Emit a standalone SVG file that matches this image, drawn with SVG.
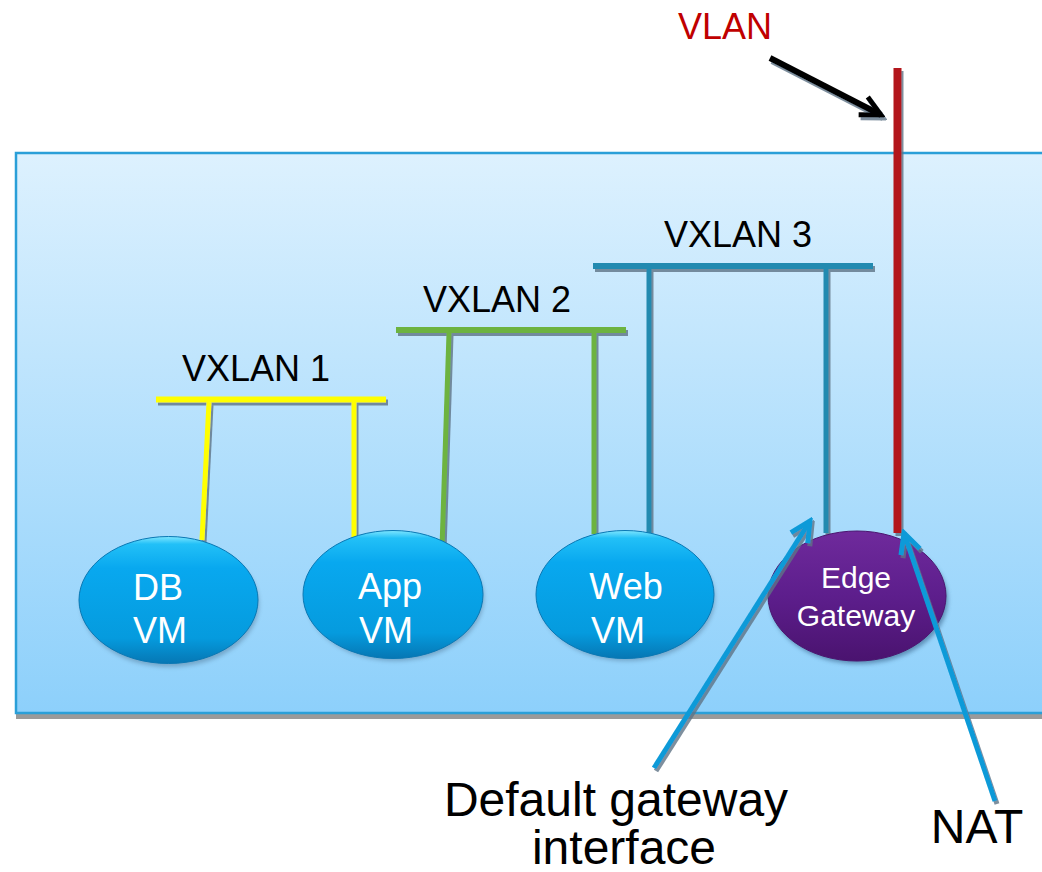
<svg xmlns="http://www.w3.org/2000/svg" width="1042" height="872" viewBox="0 0 1042 872">
  <style>
    .lbl { font-family: "Liberation Sans", Arial, sans-serif; text-anchor: middle; }
    .net { font-size: 36px; fill: #000; }
    .vm { font-size: 36px; fill: #fff; }
    .gw { font-size: 30px; fill: #fff; }
    .call { font-size: 48px; fill: #000; }
    .bar { fill: none; stroke-width: 6; stroke-linecap: butt; }
    .drop { fill: none; stroke-width: 5; stroke-linecap: butt; }
    .y { stroke: #ffff00; }
    .g { stroke: #6db33f; }
    .t { stroke: #228ab0; }
    .pointer { fill: none; stroke: #0b9ad8; stroke-width: 5; }
  </style>
  <defs>
    <linearGradient id="panelFill" x1="0" y1="0" x2="0" y2="1">
      <stop offset="0" stop-color="#ddf1fe"/>
      <stop offset="1" stop-color="#8dd0fb"/>
    </linearGradient>
    <linearGradient id="vmFill" x1="0" y1="0" x2="0" y2="1">
      <stop offset="0" stop-color="#7fe6ff"/>
      <stop offset="0.06" stop-color="#22c0f7"/>
      <stop offset="0.25" stop-color="#08a8ef"/>
      <stop offset="0.8" stop-color="#059bde"/>
      <stop offset="1" stop-color="#0677b4"/>
    </linearGradient>
    <linearGradient id="gwFill" x1="0" y1="0" x2="0" y2="1">
      <stop offset="0" stop-color="#6f2a9c"/>
      <stop offset="0.5" stop-color="#5d1e8c"/>
      <stop offset="1" stop-color="#4a136f"/>
    </linearGradient>
    <filter id="shade" x="-20%" y="-20%" width="140%" height="140%">
      <feDropShadow dx="2" dy="3" stdDeviation="0.6" flood-color="#5f7385" flood-opacity="0.8"/>
    </filter>
    <filter id="soft" x="-20%" y="-20%" width="140%" height="140%">
      <feGaussianBlur stdDeviation="2"/>
    </filter>
    <marker id="openHeadBlue" markerUnits="userSpaceOnUse" markerWidth="30" markerHeight="30" refX="0" refY="0" viewBox="-26 -14 30 28" orient="auto">
      <path d="M-20,-10 L0,0 L-20,10" fill="none" stroke="#0b9ad8" stroke-width="5" stroke-linejoin="miter"/>
    </marker>
    <marker id="openHeadBlack" markerUnits="userSpaceOnUse" markerWidth="30" markerHeight="30" refX="0" refY="0" viewBox="-26 -14 30 28" orient="auto">
      <path d="M-20,-10 L0,0 L-20,10" fill="none" stroke="#000" stroke-width="5" stroke-linejoin="miter"/>
    </marker>
  </defs>

  <rect width="1042" height="872" fill="#ffffff"/>

  <!-- tenant network container -->
  <g id="container">
    <rect x="16" y="713" width="1040" height="6" fill="#9a9a9a"/>
    <rect x="16" y="153" width="1040" height="560" fill="url(#panelFill)" stroke="#2a9fd8" stroke-width="2.5"/>
  </g>

  <!-- segment bars and uplinks -->
  <g id="connectors" filter="url(#shade)">
    <line class="bar y" x1="156" y1="399.5" x2="386" y2="399.5"/>
    <line class="drop y" x1="209" y1="402" x2="202" y2="540"/>
    <line class="drop y" x1="354" y1="402" x2="354" y2="537"/>

    <line class="bar g" x1="396" y1="330" x2="626" y2="330"/>
    <line class="drop g" x1="449" y1="333" x2="442" y2="548"/>
    <line class="drop g" x1="594" y1="333" x2="594" y2="534"/>

    <line class="bar t" x1="593" y1="266" x2="873" y2="266"/>
    <line class="drop t" x1="649" y1="269" x2="649" y2="534"/>
    <line class="drop t" x1="826" y1="269" x2="826" y2="533"/>

    <line id="vlan-uplink" x1="897.5" y1="68" x2="897.5" y2="533" stroke="#b3191b" stroke-width="8"/>
  </g>

  <!-- segment labels -->
  <g id="vxlan1"><text class="lbl net" x="256" y="381">VXLAN 1</text></g>
  <g id="vxlan2"><text class="lbl net" x="497" y="312">VXLAN 2</text></g>
  <g id="vxlan3"><text class="lbl net" x="738" y="247">VXLAN 3</text></g>

  <!-- virtual machines -->
  <g id="db-vm">
    <ellipse cx="170" cy="604" rx="89" ry="63" fill="#4b6f8c" opacity="0.45" filter="url(#soft)"/>
    <ellipse cx="168.5" cy="600" rx="89.5" ry="63.5" fill="url(#vmFill)" stroke="#0a78b4" stroke-width="1"/>
    <text class="lbl vm" x="158" y="600">DB</text>
    <text class="lbl vm" x="160" y="643">VM</text>
  </g>
  <g id="app-vm">
    <ellipse cx="395" cy="598" rx="89" ry="63" fill="#4b6f8c" opacity="0.45" filter="url(#soft)"/>
    <ellipse cx="393" cy="594.5" rx="90" ry="64" fill="url(#vmFill)" stroke="#0a78b4" stroke-width="1"/>
    <text class="lbl vm" x="390" y="599">App</text>
    <text class="lbl vm" x="386" y="643">VM</text>
  </g>
  <g id="web-vm">
    <ellipse cx="627" cy="598" rx="88" ry="63" fill="#4b6f8c" opacity="0.45" filter="url(#soft)"/>
    <ellipse cx="625" cy="594.5" rx="89" ry="64" fill="url(#vmFill)" stroke="#0a78b4" stroke-width="1"/>
    <text class="lbl vm" x="626" y="599">Web</text>
    <text class="lbl vm" x="618" y="643">VM</text>
  </g>

  <!-- edge gateway -->
  <g id="edge-gateway">
    <ellipse cx="859" cy="600" rx="89" ry="64" fill="#4f7fa6" opacity="0.8" filter="url(#soft)"/>
    <ellipse cx="857" cy="596" rx="89" ry="65" fill="url(#gwFill)" stroke="#4b1670" stroke-width="1"/>
    <text class="lbl gw" x="856" y="588">Edge</text>
    <text class="lbl gw" x="856" y="626">Gateway</text>
  </g>

  <!-- VLAN label with pointer -->
  <g id="vlan-label">
    <text class="lbl" x="725" y="39" font-size="36" fill="#c00000">VLAN</text>
    <line x1="770" y1="58" x2="881" y2="115" stroke="#000" stroke-width="6" marker-end="url(#openHeadBlack)" filter="url(#shade)"/>
  </g>

  <!-- callouts -->
  <g id="default-gateway-callout">
    <line class="pointer" x1="654" y1="768" x2="810" y2="521" marker-end="url(#openHeadBlue)" filter="url(#shade)"/>
    <text class="lbl call" x="616" y="816">Default gateway</text>
    <text class="lbl call" x="624" y="864">interface</text>
  </g>
  <g id="nat-callout">
    <line class="pointer" x1="995" y1="801" x2="904" y2="533" marker-end="url(#openHeadBlue)" filter="url(#shade)"/>
    <text class="lbl call" x="977" y="843">NAT</text>
  </g>
</svg>
